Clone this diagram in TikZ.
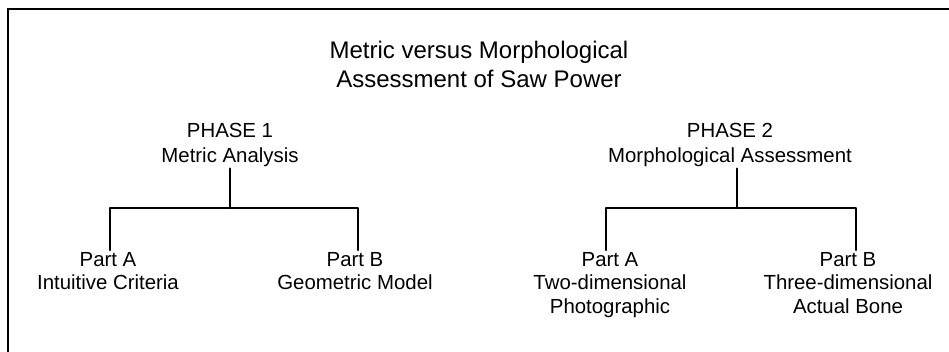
\documentclass[tikz,border=0pt]{standalone}
\usepackage{fontspec}
\setmainfont{Liberation Sans}
\usepackage{tikz}
\tikzset{
    title-text/.style = {align=center, font=\fontsize{24}{29}\selectfont, inner sep=0pt},
    phase-text/.style = {align=center, font=\fontsize{20.4}{24.5}\selectfont, inner sep=2pt},
    part-text/.style = {align=center, font=\fontsize{20.4}{23.5}\selectfont, inner sep=2pt, anchor=north},
    tree-line/.style = {draw=black, line width=2.6pt, line cap=round, line join=round},
}

\begin{document}
\begin{tikzpicture}[x=1pt, y=1pt]
\useasboundingbox (0,0) rectangle (949,352);
\draw[line width=2pt] (8,0) -- (8,343) -- (949,343);

\node[title-text] (title) at (479,288) {Metric versus Morphological\\Assessment of Saw Power};

% phase 1
\node[phase-text] (ph1) at (230,207) {PHASE 1\\Metric Analysis};
\coordinate (j1) at (230,144);
\node[part-text] (p1a) at (108,102) {Part A\\Intuitive Criteria};
\node[part-text] (p1b) at (355,102) {Part B\\Geometric Model};
\draw[tree-line] (ph1.south) -- (j1);
\draw[tree-line] ([xshift=2pt]p1a.north) |- (j1) -| ([xshift=3pt]p1b.north);

% phase 2
\node[phase-text] (ph2) at (730,207) {PHASE 2\\Morphological Assessment};
\coordinate (j2) at (737,144);
\node[part-text] (p2a) at (610,102) {Part A\\Two-dimensional\\Photographic};
\node[part-text] (p2b) at (848,102) {Part B\\Three-dimensional\\Actual Bone};
\draw[tree-line] (j2 |- ph2.south) -- (j2);
\draw[tree-line] ([xshift=-4pt]p2a.north) |- (j2) -| ([xshift=8pt]p2b.north);
\end{tikzpicture}
\end{document}
